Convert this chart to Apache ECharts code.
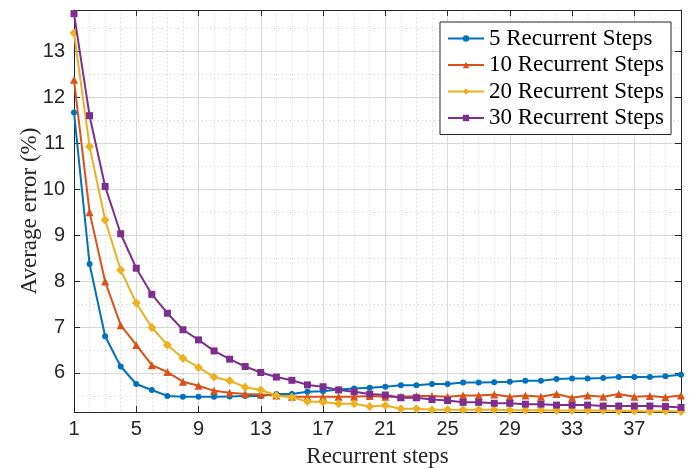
<!DOCTYPE html>
<html>
<head>
<meta charset="utf-8">
<script src="https://cdn.jsdelivr.net/npm/echarts@6/dist/echarts.min.js"></script>
<style>html,body{margin:0;padding:0;background:#fff;}#c{width:691px;height:469px;}</style>
</head>
<body>
<div id="c"></div>
<script>
const steps = [1,2,3,4,5,6,7,8,9,10,11,12,13,14,15,16,17,18,19,20,21,22,23,24,25,26,27,28,29,30,31,32,33,34,35,36,37,38,39,40];
const seriesNames = ['5 Recurrent Steps','10 Recurrent Steps','20 Recurrent Steps','30 Recurrent Steps'];
const steps5 = [11.67,8.37,6.80,6.14,5.76,5.63,5.50,5.48,5.48,5.48,5.49,5.50,5.50,5.54,5.54,5.59,5.60,5.64,5.66,5.68,5.70,5.73,5.73,5.76,5.76,5.79,5.79,5.80,5.81,5.83,5.83,5.87,5.88,5.88,5.89,5.91,5.91,5.91,5.93,5.96];
const steps10 = [12.38,9.50,7.99,7.04,6.61,6.17,6.02,5.81,5.72,5.61,5.57,5.54,5.53,5.51,5.48,5.48,5.48,5.48,5.48,5.50,5.48,5.48,5.50,5.50,5.48,5.51,5.51,5.53,5.48,5.51,5.48,5.54,5.46,5.51,5.48,5.54,5.48,5.50,5.47,5.51];
const steps20 = [13.40,10.93,9.33,8.24,7.52,6.99,6.61,6.32,6.12,5.91,5.83,5.69,5.63,5.51,5.47,5.38,5.37,5.33,5.33,5.27,5.29,5.22,5.22,5.20,5.20,5.20,5.20,5.20,5.19,5.19,5.19,5.18,5.18,5.18,5.18,5.17,5.17,5.16,5.17,5.16];
const steps30 = [13.82,11.60,10.06,9.03,8.28,7.71,7.30,6.94,6.72,6.48,6.30,6.14,6.01,5.91,5.84,5.74,5.70,5.63,5.59,5.54,5.52,5.46,5.46,5.42,5.40,5.36,5.36,5.34,5.34,5.32,5.32,5.30,5.30,5.30,5.28,5.28,5.28,5.28,5.27,5.25];
const xTickStart = 1, xTickStep = 4;

const colors = ['#0072BD','#D95319','#EDB120','#7E2F8E'];
const symbols = ['circle','triangle','diamond','rect'];
const symbolSizes = [6,8,9,7];
const valueSets = [steps5, steps10, steps20, steps30];

const axisColor = '#262626';
const tickFont = {fontFamily:'Liberation Sans, Arial, sans-serif', fontSize:20, color:'#262626'};

const chart = echarts.init(document.getElementById('c'), null, {renderer:'canvas'});
const yMin = 5.15, yMax = 13.9;
chart.setOption({
  animation:false,
  backgroundColor:'#fff',
  grid:{left:74, top:10, right:10, bottom:57, containLabel:false, outerBoundsMode:'none'},
  legend:{
    data:seriesNames, orient:'vertical', left:440, top:22,
    backgroundColor:'#fff', borderColor:axisColor, borderWidth:1,
    padding:[5,7,5,7], itemWidth:36, itemHeight:8, itemGap:3.5,
    textStyle:{fontFamily:'Liberation Serif, Times New Roman, serif', fontSize:23, lineHeight:23, color:'#000'}
  },
  xAxis:[
    {type:'value', min:xTickStart, max:40, interval:xTickStep, position:'bottom',
     name:'Recurrent steps', nameLocation:'middle', nameGap:33, nameMoveOverlap:false,
     nameTextStyle:{fontFamily:'Liberation Serif, Times New Roman, serif', fontSize:23, color:'#262626'},
     axisLine:{show:true, onZero:false, lineStyle:{color:axisColor, width:1}},
     axisTick:{show:true, inside:true, length:6, lineStyle:{color:axisColor}},
     axisLabel:{show:true, margin:7, showMaxLabel:false, ...tickFont},
     splitLine:{show:true, lineStyle:{color:'#dcdcdc', width:1}}},
    {type:'value', min:xTickStart, max:40, interval:xTickStep, position:'top',
     axisLine:{show:true, onZero:false, lineStyle:{color:axisColor, width:1}},
     axisTick:{show:true, inside:true, length:6, lineStyle:{color:axisColor}},
     axisLabel:{show:false}, splitLine:{show:false}},
    {type:'value', min:xTickStart, max:40, interval:1, position:'bottom',
     axisLine:{show:false}, axisTick:{show:false}, axisLabel:{show:false},
     splitLine:{show:true, lineStyle:{color:'#d2d2d2', width:1, type:[1,3]}}}
  ],
  yAxis:[
    {type:'value', min:yMin, max:yMax, splitNumber:9, minInterval:1, maxInterval:1, position:'left',
     name:'Average error (%)', nameLocation:'middle', nameGap:33, nameMoveOverlap:false,
     nameTextStyle:{fontFamily:'Liberation Serif, Times New Roman, serif', fontSize:23, color:'#262626'},
     axisLine:{show:true, onZero:false, lineStyle:{color:axisColor, width:1}},
     axisTick:{show:true, inside:true, length:6, lineStyle:{color:axisColor}},
     axisLabel:{show:true, margin:9, showMinLabel:false, showMaxLabel:false, ...tickFont},
     splitLine:{show:true, lineStyle:{color:'#dcdcdc', width:1}}},
    {type:'value', min:yMin, max:yMax, splitNumber:9, minInterval:1, maxInterval:1, position:'right',
     axisLine:{show:true, onZero:false, lineStyle:{color:axisColor, width:1}},
     axisTick:{show:true, inside:true, length:6, lineStyle:{color:axisColor}},
     axisLabel:{show:false}, splitLine:{show:false}},
    {type:'value', min:yMin, max:yMax, splitNumber:17, minInterval:0.5, maxInterval:0.5, position:'left',
     axisLine:{show:false}, axisTick:{show:false}, axisLabel:{show:false},
     splitLine:{show:true, lineStyle:{color:'#d2d2d2', width:1, type:[1,3]}}}
  ],
  series: valueSets.map((vals, i) => ({
    name:seriesNames[i], type:'line', xAxisIndex:0, yAxisIndex:0,
    data: steps.map((s, k) => [s, vals[k]]),
    symbol:symbols[i], symbolSize:symbolSizes[i], showSymbol:true,
    lineStyle:{color:colors[i], width:2}, itemStyle:{color:colors[i]},
    z: 10 + i, clip:false
  }))
});
</script>
</body>
</html>
